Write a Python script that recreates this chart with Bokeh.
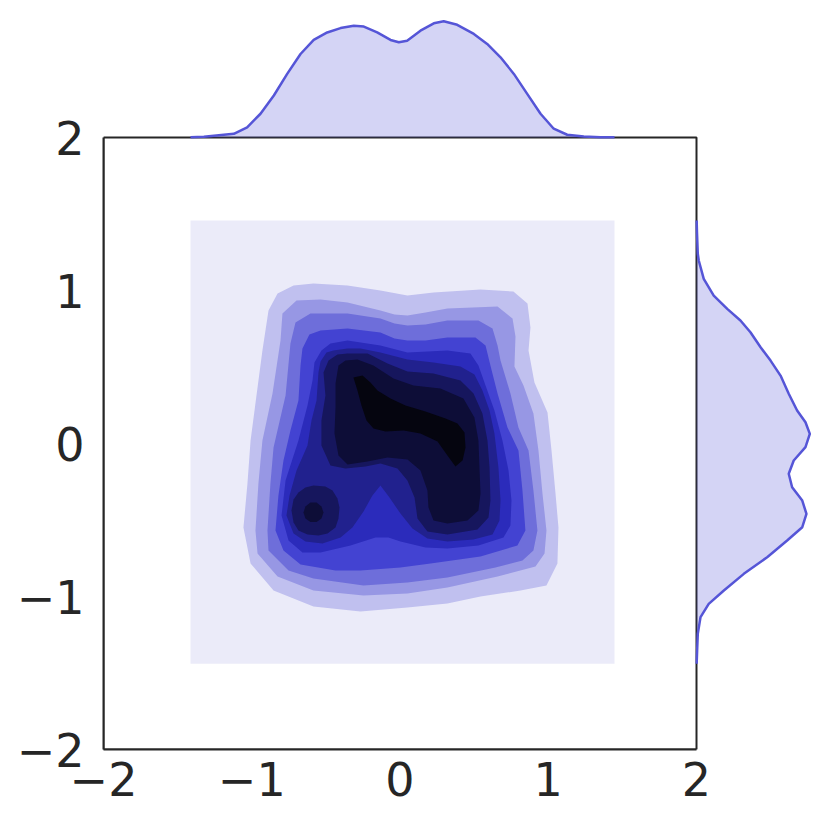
from bokeh.plotting import figure
from bokeh.models import Range1d, FixedTicker
from bokeh.embed import file_html
from bokeh.resources import INLINE

# ---------------- data ----------------
TICKS = [-2, -1, 0, 1, 2]
TICK_LABELS = ["\u22122", "\u22121", "0", "1", "2"]
BOX = [-2, 2]

# KDE evaluation grid (lowest, shaded level)
GRID_X = [-1.413, 1.447]
GRID_Y = [-1.440, 1.458]

# contour outlines, outer to inner
L1_X = [-0.887, -0.826, -0.718, -0.584, -0.354, -0.132, 0.050, 0.226, 0.543, 0.765, 0.860, 0.880, 0.867, 0.907, 0.995, 1.022, 1.049, 1.069, 1.062, 0.988, 0.813, 0.543, 0.320, 0.050, -0.267, -0.584, -0.853, -1.008, -1.056, -1.029, -1.008, -0.961, -0.928]
L1_Y = [0.869, 0.980, 1.033, 1.046, 1.033, 1.000, 0.967, 0.987, 1.007, 0.993, 0.915, 0.758, 0.608, 0.399, 0.203, -0.046, -0.327, -0.549, -0.784, -0.928, -0.961, -1.000, -1.046, -1.072, -1.098, -1.065, -0.961, -0.784, -0.549, -0.261, 0.020, 0.366, 0.608]

L2_X = [-0.793, -0.698, -0.536, -0.354, -0.132, -0.037, 0.050, 0.172, 0.320, 0.658, 0.759, 0.779, 0.772, 0.833, 0.900, 0.934, 0.961, 0.988, 0.975, 0.914, 0.658, 0.320, 0.050, -0.246, -0.584, -0.826, -0.961, -0.975, -0.955, -0.928, -0.860, -0.806]
L2_Y = [0.850, 0.935, 0.941, 0.922, 0.869, 0.843, 0.837, 0.856, 0.882, 0.895, 0.817, 0.699, 0.503, 0.379, 0.196, -0.046, -0.327, -0.569, -0.719, -0.804, -0.869, -0.941, -0.980, -0.993, -0.961, -0.869, -0.719, -0.569, -0.261, 0.020, 0.327, 0.673]

L3_X = [-0.705, -0.604, -0.354, -0.132, -0.037, 0.050, 0.172, 0.320, 0.529, 0.624, 0.658, 0.678, 0.745, 0.799, 0.867, 0.900, 0.927, 0.900, 0.826, 0.644, 0.320, 0.050, -0.246, -0.584, -0.752, -0.887, -0.894, -0.874, -0.853, -0.772, -0.739]
L3_Y = [0.791, 0.850, 0.850, 0.817, 0.784, 0.771, 0.778, 0.804, 0.804, 0.752, 0.641, 0.542, 0.327, 0.105, -0.046, -0.307, -0.569, -0.699, -0.765, -0.810, -0.876, -0.909, -0.928, -0.882, -0.830, -0.699, -0.569, -0.261, -0.026, 0.314, 0.654]

L4_X = [-0.611, -0.536, -0.354, -0.132, -0.037, 0.050, 0.172, 0.320, 0.509, 0.577, 0.610, 0.658, 0.725, 0.799, 0.826, 0.846, 0.792, 0.543, 0.206, 0.003, -0.267, -0.435, -0.671, -0.786, -0.840, -0.820, -0.786, -0.739, -0.685, -0.671, -0.658]
L4_Y = [0.712, 0.739, 0.752, 0.725, 0.686, 0.673, 0.673, 0.693, 0.693, 0.641, 0.510, 0.327, 0.105, -0.046, -0.307, -0.569, -0.667, -0.739, -0.784, -0.810, -0.830, -0.830, -0.791, -0.699, -0.569, -0.340, -0.111, 0.085, 0.281, 0.510, 0.621]

L5_X = [-0.530, -0.469, -0.354, -0.132, 0.050, 0.320, 0.475, 0.529, 0.577, 0.637, 0.691, 0.732, 0.752, 0.745, 0.698, 0.529, 0.320, 0.172, 0.003, -0.078, -0.165, -0.334, -0.536, -0.658, -0.752, -0.799, -0.772, -0.685, -0.624, -0.590, -0.577]
L5_Y = [0.608, 0.654, 0.673, 0.641, 0.595, 0.608, 0.588, 0.510, 0.379, 0.216, 0.020, -0.176, -0.373, -0.536, -0.614, -0.667, -0.686, -0.680, -0.641, -0.614, -0.614, -0.667, -0.712, -0.712, -0.634, -0.471, -0.242, 0.020, 0.248, 0.412, 0.529]

L6_X = [-0.536, -0.496, -0.449, -0.354, -0.267, -0.132, 0.050, 0.226, 0.408, 0.502, 0.556, 0.604, 0.637, 0.664, 0.678, 0.671, 0.624, 0.496, 0.320, 0.185, 0.084, 0.003, -0.071, -0.132, -0.186, -0.246, -0.321, -0.401, -0.523, -0.638, -0.718, -0.766, -0.745, -0.698, -0.624, -0.597, -0.563, -0.550]
L6_Y = [0.536, 0.595, 0.608, 0.621, 0.621, 0.595, 0.549, 0.529, 0.503, 0.451, 0.346, 0.216, 0.065, -0.157, -0.373, -0.503, -0.595, -0.627, -0.641, -0.621, -0.556, -0.458, -0.353, -0.275, -0.340, -0.444, -0.549, -0.614, -0.654, -0.641, -0.588, -0.471, -0.340, -0.176, -0.013, 0.150, 0.281, 0.464]

L7_X = [-0.516, -0.482, -0.422, -0.354, -0.219, -0.084, 0.050, 0.226, 0.408, 0.496, 0.556, 0.590, 0.604, 0.610, 0.597, 0.523, 0.320, 0.185, 0.118, 0.098, 0.050, -0.017, -0.132, -0.233, -0.368, -0.469, -0.530, -0.530, -0.503]
L7_Y = [0.464, 0.542, 0.582, 0.588, 0.588, 0.523, 0.471, 0.458, 0.412, 0.327, 0.196, 0.020, -0.157, -0.373, -0.484, -0.562, -0.595, -0.575, -0.490, -0.353, -0.242, -0.163, -0.131, -0.150, -0.163, -0.144, -0.013, 0.150, 0.314]

# second island of level 7 (ring in the lower left)
L7B_X = [-0.584, -0.503, -0.455, -0.422, -0.408, -0.415, -0.435, -0.489, -0.550, -0.624, -0.685, -0.718, -0.732, -0.718, -0.685, -0.638]
L7B_Y = [-0.275, -0.281, -0.307, -0.359, -0.418, -0.490, -0.549, -0.588, -0.601, -0.595, -0.569, -0.516, -0.438, -0.366, -0.320, -0.288]

L8_X = [-0.415, -0.368, -0.287, -0.179, -0.044, 0.091, 0.273, 0.428, 0.502, 0.529, 0.536, 0.543, 0.529, 0.455, 0.320, 0.226, 0.192, 0.185, 0.138, 0.050, -0.084, -0.219, -0.354, -0.415, -0.442, -0.435, -0.435]
L8_Y = [0.510, 0.542, 0.549, 0.510, 0.425, 0.379, 0.359, 0.294, 0.170, 0.020, -0.157, -0.327, -0.438, -0.503, -0.523, -0.503, -0.418, -0.307, -0.176, -0.105, -0.092, -0.118, -0.137, -0.078, 0.065, 0.235, 0.392]

# second island of level 8 (small dot in the lower left)
L8B_X = [-0.516, -0.530, -0.563, -0.604, -0.638, -0.651, -0.638, -0.604, -0.563, -0.530]
L8B_Y = [-0.451, -0.412, -0.386, -0.386, -0.412, -0.451, -0.490, -0.513, -0.513, -0.490]

L9_X = [-0.314, -0.287, -0.260, -0.226, -0.179, -0.098, 0.024, 0.138, 0.253, 0.320, 0.374, 0.422, 0.442, 0.435, 0.388, 0.307, 0.172, 0.037, -0.064, -0.152, -0.199, -0.253]
L9_Y = [0.431, 0.346, 0.248, 0.150, 0.098, 0.078, 0.085, 0.065, 0.013, -0.078, -0.150, -0.111, -0.026, 0.072, 0.131, 0.163, 0.209, 0.248, 0.294, 0.346, 0.399, 0.444]

# marginal densities
TOP_X = [-1.413, -1.323, -1.121, -1.031, -0.941, -0.851, -0.761, -0.671, -0.582, -0.491, -0.401, -0.312, -0.244, -0.154, -0.064, -0.008, 0.048, 0.138, 0.228, 0.295, 0.386, 0.498, 0.588, 0.678, 0.768, 0.858, 0.948, 1.037, 1.128, 1.240, 1.352, 1.447]
TOP_D = [0.001, 0.004, 0.020, 0.056, 0.130, 0.230, 0.348, 0.457, 0.534, 0.575, 0.599, 0.612, 0.607, 0.575, 0.534, 0.521, 0.530, 0.585, 0.625, 0.636, 0.617, 0.567, 0.512, 0.439, 0.348, 0.239, 0.130, 0.048, 0.015, 0.005, 0.002, 0.001]

RIGHT_Y = [1.458, 1.380, 1.240, 1.196, 1.076, 0.967, 0.880, 0.804, 0.727, 0.629, 0.542, 0.444, 0.325, 0.216, 0.139, 0.063, -0.024, -0.111, -0.198, -0.286, -0.373, -0.460, -0.547, -0.634, -0.743, -0.852, -0.961, -1.048, -1.135, -1.244, -1.353, -1.440]
RIGHT_D = [0.001, 0.003, 0.008, 0.014, 0.045, 0.107, 0.191, 0.273, 0.335, 0.398, 0.460, 0.522, 0.573, 0.625, 0.677, 0.704, 0.677, 0.604, 0.573, 0.594, 0.657, 0.683, 0.657, 0.563, 0.439, 0.294, 0.170, 0.076, 0.025, 0.008, 0.004, 0.001]

# ---------------- style / layout ----------------
LEVEL_COLORS = ["#EBEBF9", "#C0C0EF", "#9797E4", "#6E6EDA", "#4343D2",
                "#2B2BBB", "#21218E", "#16165D", "#0D0D37", "#05050F"]
LINE_COLOR = "#5555D7"
INK = "#262626"
FONT = "DejaVu Sans"

MAIN_W, MAIN_H = 593, 612      # joint panel, px
TOP_H, RIGHT_W = 122, 119      # marginal panels, px
MARGIN = 1.05

span = BOX[1] - BOX[0]
x_end = BOX[1] + span * RIGHT_W / MAIN_W
y_end = BOX[1] + span * TOP_H / MAIN_H

p = figure(x_range=Range1d(BOX[0], x_end), y_range=Range1d(BOX[0], y_end),
           frame_width=MAIN_W + RIGHT_W, frame_height=MAIN_H + TOP_H,
           min_border_left=103, min_border_right=5, min_border_top=15, min_border_bottom=66,
           output_backend="svg", toolbar_location=None)
p.grid.visible = False
p.outline_line_color = None
p.background_fill_color = "white"
p.border_fill_color = "white"

top_max = max(TOP_D) * MARGIN
right_max = max(RIGHT_D) * MARGIN
p.extra_y_ranges = {"top": Range1d(-top_max * MAIN_H / TOP_H, top_max)}
p.extra_x_ranges = {"right": Range1d(-right_max * MAIN_W / RIGHT_W, right_max)}

# lowest level: the whole KDE grid
p.quad(left=GRID_X[0], right=GRID_X[1], bottom=GRID_Y[0], top=GRID_Y[1],
       fill_color=LEVEL_COLORS[0], line_color=None)

shapes = [(L1_X, L1_Y, 1), (L2_X, L2_Y, 2), (L3_X, L3_Y, 3), (L4_X, L4_Y, 4),
          (L5_X, L5_Y, 5), (L6_X, L6_Y, 6), (L7_X, L7_Y, 7), (L7B_X, L7B_Y, 7),
          (L8_X, L8_Y, 8), (L8B_X, L8B_Y, 8), (L9_X, L9_Y, 9)]
for xs, ys, lev in shapes:
    p.patch(xs, ys, fill_color=LEVEL_COLORS[lev], line_color=None)

# frame of the joint panel
p.quad(left=BOX[0], right=BOX[1], bottom=BOX[0], top=BOX[1],
       fill_color=None, line_color=INK, line_width=2)

# top marginal
p.varea(x=TOP_X, y1=[0] * len(TOP_X), y2=TOP_D, y_range_name="top",
        fill_color=LINE_COLOR, fill_alpha=0.25)
p.line(TOP_X, TOP_D, y_range_name="top", line_color=LINE_COLOR, line_width=2.5)

# right marginal
p.harea(y=RIGHT_Y, x1=[0] * len(RIGHT_Y), x2=RIGHT_D, x_range_name="right",
        fill_color=LINE_COLOR, fill_alpha=0.25)
p.line(RIGHT_D, RIGHT_Y, x_range_name="right", line_color=LINE_COLOR, line_width=2.5)

for ax in (p.xaxis, p.yaxis):
    ax.ticker = FixedTicker(ticks=TICKS)
    ax.major_label_overrides = {t: lab for t, lab in zip(TICKS, TICK_LABELS)}
    ax.axis_line_color = INK
    ax.axis_line_width = 2
    ax.major_tick_line_color = None
    ax.minor_tick_line_color = None
    ax.major_tick_out = 0
    ax.major_tick_in = 0
    ax.major_label_text_font = FONT
    ax.major_label_text_font_size = "46px"
    ax.major_label_text_color = INK
p.xaxis.major_label_standoff = 12
p.yaxis.major_label_standoff = 19
p.xaxis.bounds = (BOX[0], BOX[1])
p.yaxis.bounds = (BOX[0], BOX[1])

open("out.html", "w").write(file_html(p, INLINE))
